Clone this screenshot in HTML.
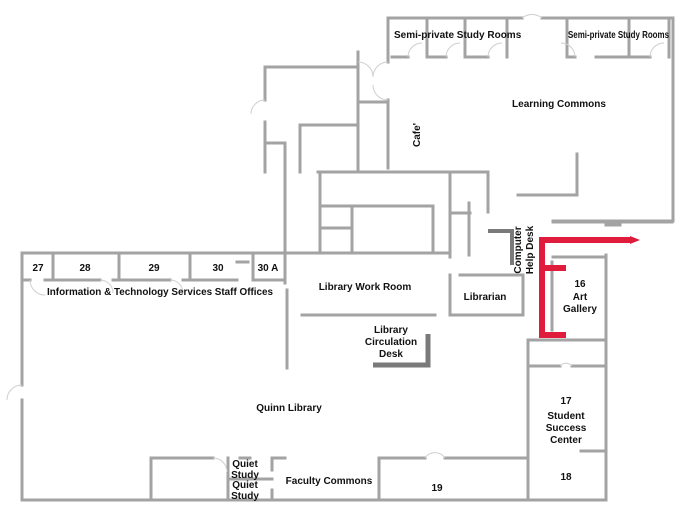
<!DOCTYPE html>
<html><head><meta charset="utf-8"><style>
html,body{margin:0;padding:0;background:#fff;width:680px;height:514px;overflow:hidden}
svg{display:block}
text{font-family:"Liberation Sans",sans-serif;font-size:10px;fill:#111;font-weight:bold}
</style></head><body>
<svg width="680" height="514" viewBox="0 0 680 514" xmlns="http://www.w3.org/2000/svg">
<g stroke="#a3a3a3" stroke-width="3" fill="none" stroke-linecap="square">
<!-- Learning commons -->
<path d="M388 18 H522 M542 18 H673 V221 M553 221 H673"/>
<path d="M388 18 V62 M388 100 V168"/>
<path d="M427 18 V57 M465 18 V57 M507 18 V57 M567 18 V57 M629 18 V57 M669 18 V57"/>
<path d="M392 57 H408 M430 57 H446 M468 57 H488 M567 57 H575 M596 57 H650"/>
<path d="M577 154 V195 H518"/>
<!-- cafe / left structures -->
<path d="M265 67 H358 M265 67 V100 M265 122 V172 M358 52 V172"/>
<path d="M358 102 H388 M300 125 H358 M300 125 V172 M265 143 H285 M285 143 V253"/>
<path d="M318 172 H488 M320 172 V253 M320 206 H433 V253 M352 206 V253 M320 228 H352"/>
<path d="M450 172 V257 M488 172 V210 M450 213 H470 M469 203 V255"/>
<path d="M285 253 H450 M488 210 V212"/>
<!-- offices -->
<path d="M22 253 H285 V283 M22 253 V385 M22 400 V500 H606 V255"/>
<path d="M53 253 V280 M119 253 V280 M190 253 V280 M253 253 V280 M237 262 H248"/>
<path d="M22 280 H30 M45 280 H100 M113 280 H170 M183 280 H237 M253 280 H284"/>
<!-- work room, librarian -->
<path d="M287 290 V368 M302 315 H435 M450 315 H523 V275 H460 M450 275 V315"/>
<!-- art gallery / 17 -->
<path d="M553 222 H672 M606 225 H620 M553 257 H606 M552 262 V330"/>
<path d="M528 340 H606 M528 340 V500 M528 366 H560 M572 366 H606 M581 451 H606"/>
<!-- bottom rooms -->
<path d="M151 458 H213 M240 458 H250 M272 458 H285 M379 458 H425 M445 458 H528"/>
<path d="M151 458 V500 M228 458 V500 M272 458 V470 M272 490 V500 M379 458 V500 M228 479 H272"/>
</g>
<!-- door arcs -->
<g stroke="#cfcfcf" stroke-width="1" fill="none">
<path d="M522 18 A16 16 0 0 1 542 18 M408 57 A14 14 0 0 1 422 43 M446 57 A14 14 0 0 1 460 43 M488 57 A14 14 0 0 1 502 43 M575 57 A14 14 0 0 0 561 43 M650 57 A14 14 0 0 1 664 43"/>
<path d="M22 385 A15 15 0 0 0 7 400 M213 458 A14 14 0 0 1 227 472 M425 458 A12 12 0 0 1 445 458 M560 366 A8 8 0 0 1 572 366"/>
<path d="M30 280 A15 15 0 0 0 45 295 M100 280 A13 13 0 0 1 113 293 M170 280 A13 13 0 0 1 183 293"/>
<path d="M358 62 A15 15 0 0 1 373 77 M388 62 A15 15 0 0 0 373 77 M388 100 A15 15 0 0 1 373 85 M265 100 A14 14 0 0 0 251 114"/>
</g>
<!-- desks -->
<path d="M373 365 H428 V334" stroke="#7a7a7a" stroke-width="5" fill="none"/>
<path d="M488 231 H512 V265" stroke="#7a7a7a" stroke-width="4" fill="none"/>
<!-- red route -->
<g stroke="#e01c3c" stroke-width="6" fill="none">
<path d="M566 335 H542 V240 H632 M542 268 H566"/>
</g>
<path d="M630 236 L640 240 L630 244 Z" fill="#e01c3c"/>
<!-- labels -->
<text x="394" y="38" font-size="9.5">Semi-private Study Rooms</text>
<text x="568" y="38" font-size="8.5" textLength="101" lengthAdjust="spacingAndGlyphs">Semi-private Study Rooms</text>
<text x="559" y="107" text-anchor="middle">Learning Commons</text>
<text transform="translate(420,135) rotate(-90)" text-anchor="middle">Cafe'</text>
<text transform="translate(521,250) rotate(-90)" text-anchor="middle">Computer</text>
<text transform="translate(533,250) rotate(-90)" text-anchor="middle">Help Desk</text>
<text x="38" y="271" text-anchor="middle">27</text>
<text x="85" y="271" text-anchor="middle">28</text>
<text x="154" y="271" text-anchor="middle">29</text>
<text x="218" y="271" text-anchor="middle">30</text>
<text x="268" y="271" text-anchor="middle">30 A</text>
<text x="160" y="295" text-anchor="middle" textLength="226" lengthAdjust="spacingAndGlyphs">Information &amp; Technology Services Staff Offices</text>
<text x="365" y="290" text-anchor="middle">Library Work Room</text>
<text x="485" y="300" text-anchor="middle">Librarian</text>
<text x="391" y="333" text-anchor="middle">Library</text>
<text x="391" y="345" text-anchor="middle">Circulation</text>
<text x="391" y="357" text-anchor="middle">Desk</text>
<text x="580" y="287" text-anchor="middle">16</text>
<text x="580" y="300" text-anchor="middle">Art</text>
<text x="580" y="312" text-anchor="middle">Gallery</text>
<text x="289" y="411" text-anchor="middle">Quinn Library</text>
<text x="566" y="404" text-anchor="middle">17</text>
<text x="566" y="419" text-anchor="middle">Student</text>
<text x="566" y="431" text-anchor="middle">Success</text>
<text x="566" y="443" text-anchor="middle">Center</text>
<text x="566" y="480" text-anchor="middle">18</text>
<text x="437" y="491" text-anchor="middle">19</text>
<text x="329" y="484" text-anchor="middle">Faculty Commons</text>
<text x="245" y="467" text-anchor="middle">Quiet</text>
<text x="245" y="478" text-anchor="middle">Study</text>
<text x="245" y="488" text-anchor="middle">Quiet</text>
<text x="245" y="499" text-anchor="middle">Study</text>
</svg>
</body></html>
